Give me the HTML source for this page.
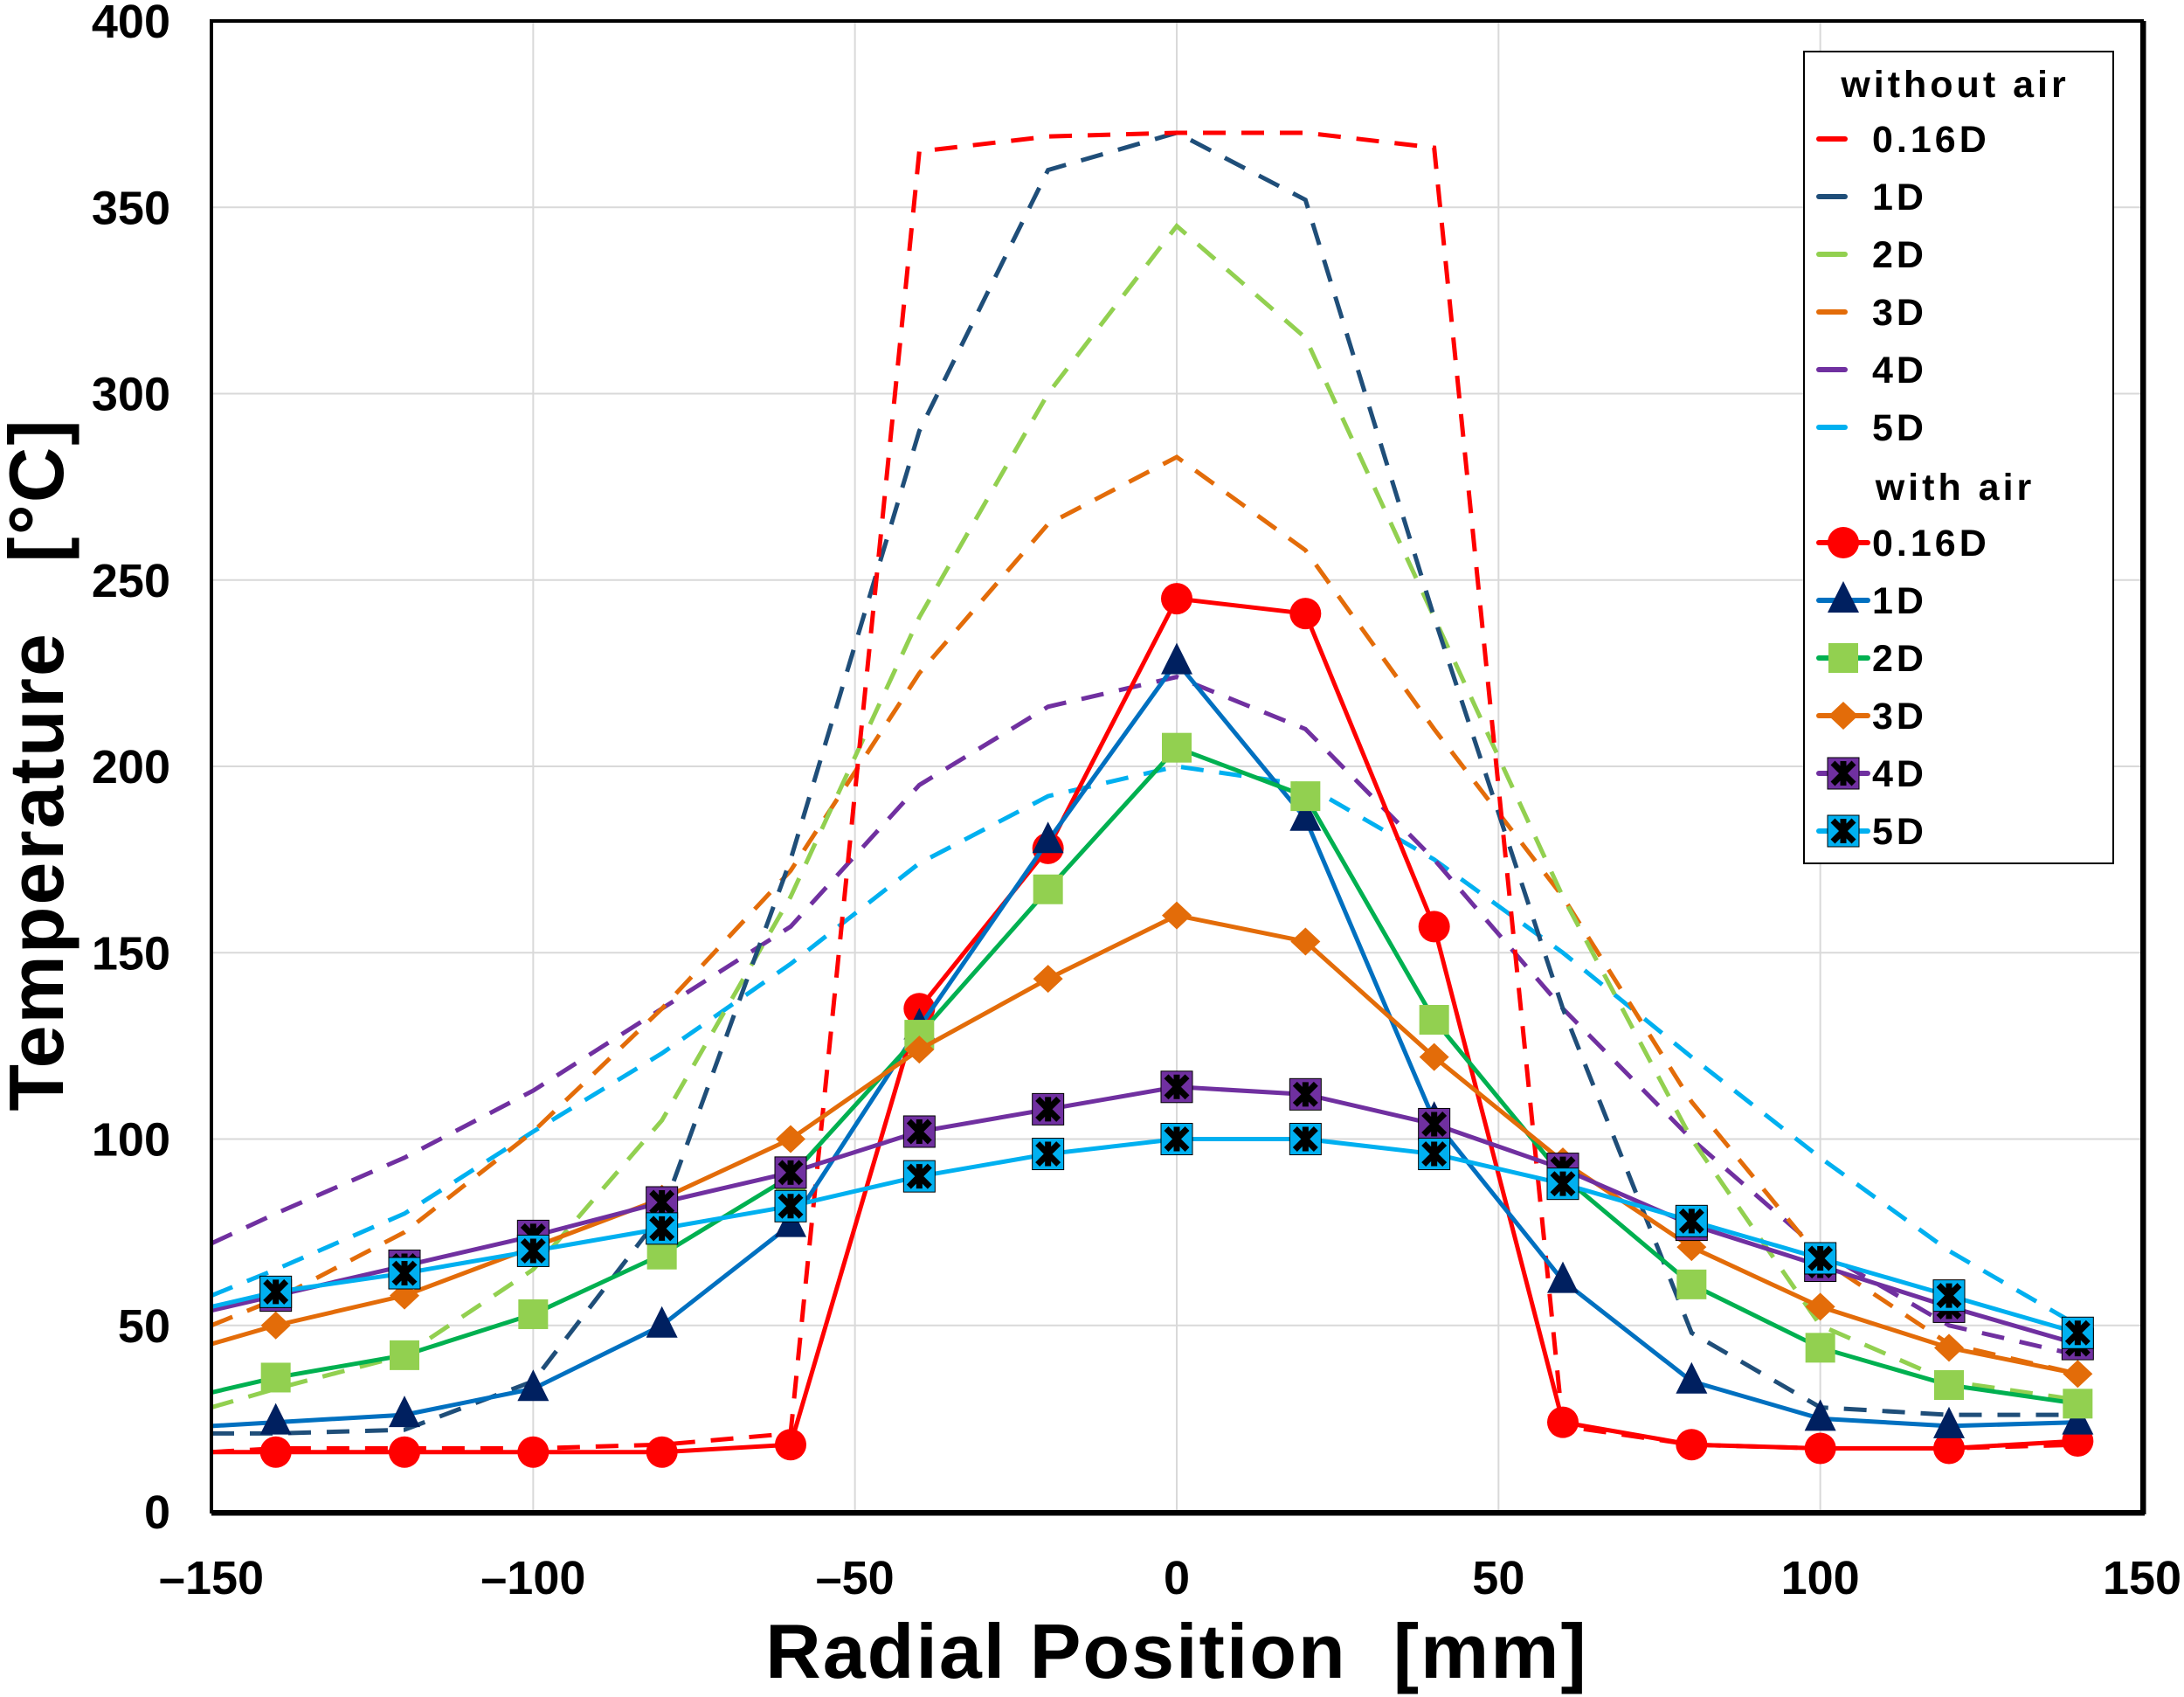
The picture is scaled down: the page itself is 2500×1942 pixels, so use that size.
<!DOCTYPE html>
<html><head><meta charset="utf-8"><style>
html,body{margin:0;padding:0;background:#fff}
svg{display:block}
text{font-family:"Liberation Sans",sans-serif;font-weight:bold;fill:#000;white-space:pre}
</style></head><body>
<svg id="chart" width="2500" height="1942" viewBox="0 0 2500 1942" xmlns="http://www.w3.org/2000/svg" xml:space="preserve">
<g id="grid"></g>
<g id="series"></g>
<rect x="242" y="24" width="2210" height="1706" fill="none" stroke="#000" stroke-width="4"/>
<line x1="2455" y1="24" x2="2455" y2="1733" stroke="#000" stroke-width="3"/>
<line x1="242" y1="1733" x2="2455" y2="1733" stroke="#000" stroke-width="3"/>
<g id="ticks"></g>
<text x="1347" y="1920" font-size="88" text-anchor="middle" letter-spacing="2">Radial Position  [mm]</text>
<text transform="translate(72,875) rotate(-90)" font-size="88" text-anchor="middle" letter-spacing="2">Temperature   [°C]</text>
<g id="legend"></g>
</svg>
<script>
const xTicks=[-150,-100,-50,0,50,100,150];
const xTickLabels=["\u2013150","\u2013100","\u201350","0","50","100","150"];
const yTicks=[0,50,100,150,200,250,300,350,400];
const yTickLabels=["0","50","100","150","200","250","300","350","400"];
const xDashed=[-150,-140,-120,-100,-80,-60,-40,-20,0,20,40,60,80,100,120,140];
const noAir016=[16,17,17,17,18,21,365,369,370,370,366,23,18,17,17,18];
const noAir1=[21,21,22,35,80,175,290,360,370,352,240,135,48,28,26,26];
const noAir2=[28,33,42,65,105,165,240,300,345,315,240,165,100,50,35,30];
const noAir3=[50,57,75,102,135,172,225,265,283,258,210,165,110,68,45,37];
const noAir4=[72,80,95,113,135,157,195,216,224,210,175,135,100,70,50,42];
const noAir5=[58,65,80,102,123,147,174,192,200,195,175,150,122,95,70,50];
const xSolid=[-150,-140,-120,-100,-80,-60,-40,-20,0,20,40,60,80,100,120,140];
const air016=[16,16,16,16,16,18,135,178,245,241,157,24,18,17,17,19];
const air1=[23,24,26,33,50,77,130,180,228,186,105,62,35,25,23,24];
const air2=[32,36,42,53,69,90,128,167,205,192,132,90,61,44,34,29];
const air3=[45,50,58,71,84,100,124,143,160,153,122,94,71,55,44,37];
const air4=[54,58,66,74,83,91,102,108,114,112,104,92,77,66,55,45];
const air5=[55,59,64,70,76,82,90,96,100,100,96,88,78,68,58,48];

const L=242,R=2452,T=24,B=1730;
const sx=v=>L+(v+150)/300*(R-L);
const sy=v=>B-v/400*(B-T);
const NS="http://www.w3.org/2000/svg";
function mk(tag,parent,attrs){const e=document.createElementNS(NS,tag);for(const k in attrs)e.setAttribute(k,attrs[k]);parent.appendChild(e);return e;}
const grid=document.getElementById('grid'),ticks=document.getElementById('ticks'),ser=document.getElementById('series'),leg=document.getElementById('legend');
xTicks.forEach((t,i)=>{
  const g=mk('line',grid,{x1:sx(t),y1:T,x2:sx(t),y2:B,stroke:'#d9d9d9','stroke-width':2});
  
  
  const tx=mk('text',ticks,{x:sx(t),y:1824,'font-size':54,'text-anchor':'middle'});
  tx.textContent=xTickLabels[i];
  
  
});
yTicks.forEach((t,i)=>{
  const g=mk('line',grid,{x1:L,y1:sy(t),x2:R,y2:sy(t),stroke:'#d9d9d9','stroke-width':2});
  
  
  const tx=mk('text',ticks,{x:195,y:sy(t)+19,'font-size':54,'text-anchor':'end'});
  tx.textContent=yTickLabels[i];
  
  
});
function pts(xs,ys){return xs.map((x,i)=>sx(x)+','+sy(ys[i])).join(' ');}
const dashed=[[noAir5,'#00b0f0'],[noAir4,'#7030a0'],[noAir3,'#e36c09'],[noAir2,'#92d050'],[noAir1,'#1f4e79'],[noAir016,'#ff0000']];
dashed.forEach(([d,c])=>{
  const p=mk('polyline',ser,{points:pts(xDashed,d),fill:'none',stroke:c,'stroke-width':5,'stroke-dasharray':'26,18'});
  
  
});
function marker(parent,type,x,y,fill){
  let e;
  if(type==='circle')e=mk('circle',parent,{cx:x,cy:y,r:18,fill:fill});
  else if(type==='tri')e=mk('polygon',parent,{points:`${x},${y-22} ${x-18},${y+14} ${x+18},${y+14}`,fill:fill});
  else if(type==='sq')e=mk('rect',parent,{x:x-17,y:y-17,width:34,height:34,fill:fill});
  else if(type==='dia')e=mk('polygon',parent,{points:`${x},${y-16} ${x+17},${y} ${x},${y+16} ${x-17},${y}`,fill:fill});
  else{
    e=mk('g',parent,{});
    mk('rect',e,{x:x-18,y:y-18,width:36,height:36,fill:fill,stroke:'#000','stroke-width':1});
    mk('path',e,{d:`M${x-12},${y-12}L${x+12},${y+12}M${x+12},${y-12}L${x-12},${y+12}M${x},${y-14}L${x},${y+14}`,stroke:'#000','stroke-width':7});
  }
  
  
}
const solid=[[air016,'#ff0000','circle','#ff0000'],[air1,'#0070c0','tri','#002060'],[air2,'#00b050','sq','#92d050'],[air3,'#e36c09','dia','#e36c09'],[air4,'#7030a0','x','#7030a0'],[air5,'#00b0f0','x','#00b0f0']];
solid.forEach(([d,c,m,f])=>{
  const p=mk('polyline',ser,{points:pts(xSolid,d),fill:'none',stroke:c,'stroke-width':5});
  
  
  xSolid.forEach((x,i)=>{if(i>0)marker(ser,m,sx(x),sy(d[i]),f);});
});
const lb=mk('rect',leg,{x:2065,y:59,width:354,height:929,fill:'#fff',stroke:'#000','stroke-width':2});


const labels=['0.16D','1D','2D','3D','4D','5D'];
function head(txt,y){const t=mk('text',leg,{x:2238,y:y,'font-size':43,'text-anchor':'middle','letter-spacing':4});t.textContent=txt;
  
  }
head('without air',111);
const dcols=['#ff0000','#1f4e79','#92d050','#e36c09','#7030a0','#00b0f0'];
labels.forEach((lab,i)=>{
  const y=159+i*66;
  const g=mk('g',leg,{});
  
  
  mk('line',g,{x1:2082,y1:y,x2:2112,y2:y,stroke:dcols[i],'stroke-width':6,'stroke-linecap':'round'});
  const t=mk('text',g,{x:2143,y:y+15,'font-size':43,'letter-spacing':4});t.textContent=lab;
});
head('with air',572);
labels.forEach((lab,i)=>{
  const y=621+i*66;
  const g=mk('g',leg,{});
  
  
  mk('line',g,{x1:2082,y1:y,x2:2138,y2:y,stroke:solid[i][1],'stroke-width':6,'stroke-linecap':'round'});
  marker(g,solid[i][2],2110,y,solid[i][3]);
  const t=mk('text',g,{x:2143,y:y+15,'font-size':43,'letter-spacing':4});t.textContent=lab;
});
</script>
</body></html>
